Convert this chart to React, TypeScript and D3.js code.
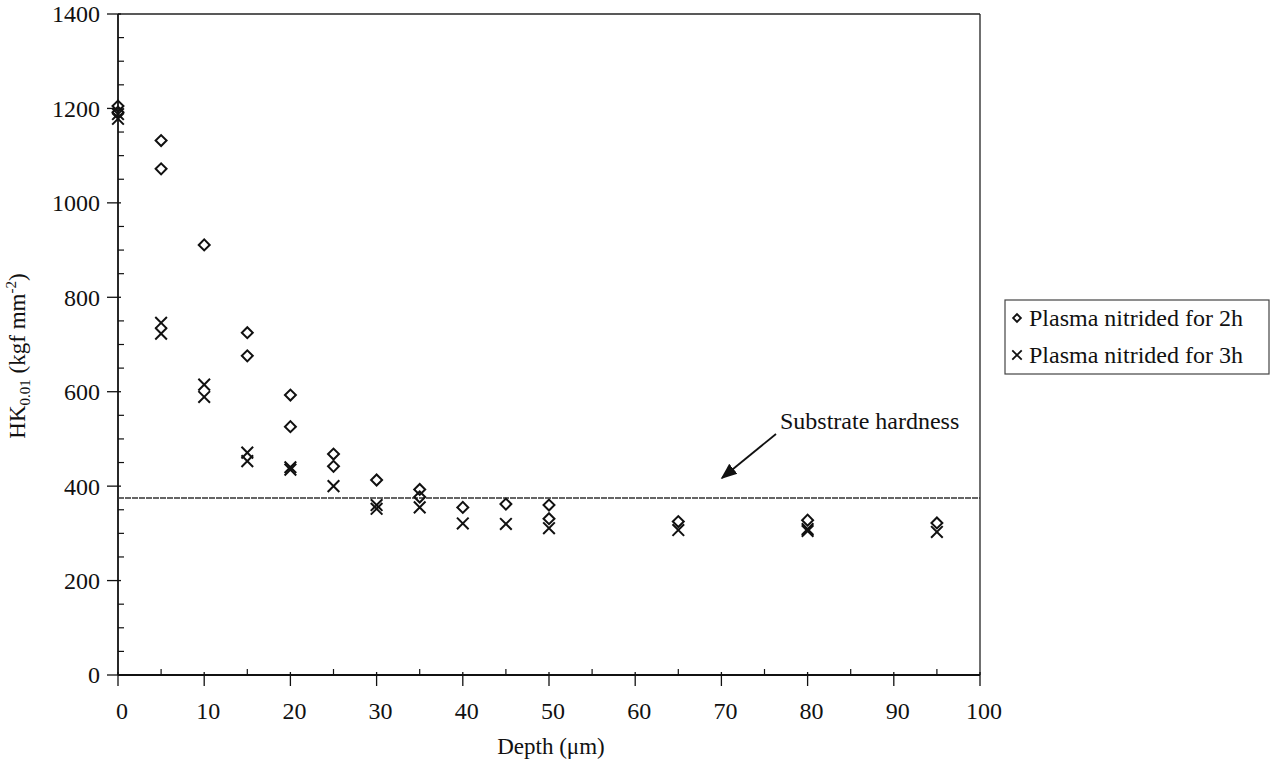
import React from 'react';
import * as d3 from 'd3';

// hardness profile
const depth2h = [0, 0, 5, 5, 10, 15, 15, 20, 20, 25, 25, 30, 35, 35, 40, 45, 50, 50, 65, 80, 95];
const hk2h = [1205, 1192, 1132, 1072, 911, 725, 676, 593, 526, 468, 442, 413, 393, 377, 355, 362, 360, 331, 325, 328, 322];
const depth3h = [0, 0, 5, 5, 10, 10, 15, 15, 20, 20, 25, 30, 30, 35, 40, 45, 50, 65, 80, 80, 95];
const hk3h = [1188, 1178, 746, 723, 615, 589, 471, 453, 440, 435, 400, 360, 352, 355, 321, 320, 311, 307, 309, 305, 303];

const substrateDepth = [0, 100];
const substrateHK = [375, 375];

const xTicks = [0, 10, 20, 30, 40, 50, 60, 70, 80, 90, 100];
const yTicks = [0, 200, 400, 600, 800, 1000, 1200, 1400];
const legendLabels = ['Plasma nitrided for 2h', 'Plasma nitrided for 3h'];

const W = 1273;
const H = 767;
const FONT = '"Liberation Serif", "Times New Roman", serif';

export default function App() {
  const x = d3.scaleLinear().domain([0, 100]).range([118, 980]);
  const y = d3.scaleLinear().domain([0, 1400]).range([675, 14]);

  const diamond = d3.symbol().type(d3.symbolSquare).size(60)();
  const cross = d3.symbol().type(d3.symbolTimes).size(90)();

  const minorY = d3.range(50, 1400, 50).filter(v => v % 200 !== 0);
  const minorX = d3.range(5, 100, 10);

  const line = d3.line<number>()
    .x((d, i) => x(substrateDepth[i]))
    .y(d => y(d));

  return (
    <svg width={W} height={H} style={{ position: 'absolute', left: 0, top: 0, background: '#fff' }}>
      <defs>
        <marker id="arrow" viewBox="0 0 10 10" refX="9" refY="5" markerWidth="9" markerHeight="9"
          orient="auto-start-reverse">
          <path d="M0,1 L10,5 L0,9 z" fill="#111" />
        </marker>
      </defs>

      {/* frame */}
      <line x1={x(0)} x2={x(100)} y1={y(1400)} y2={y(1400)} stroke="#222" strokeWidth={1.3} />
      <line x1={x(100)} x2={x(100)} y1={y(1400)} y2={y(0)} stroke="#222" strokeWidth={1.3} />
      <line x1={x(0)} x2={x(0)} y1={y(1400)} y2={y(0)} stroke="#111" strokeWidth={1.8} />
      <line x1={x(0)} x2={x(100)} y1={y(0)} y2={y(0)} stroke="#111" strokeWidth={1.8} />

      {/* y ticks */}
      {yTicks.map(t => (
        <g key={'y' + t}>
          <line x1={x(0) - 11} x2={x(0) + 3} y1={y(t)} y2={y(t)} stroke="#111" strokeWidth={1.3} />
          <text x={100} y={y(t)} dy="0.35em" textAnchor="end" fontSize={24} fontFamily={FONT} fill="#111">{t}</text>
        </g>
      ))}
      {minorY.map(t => (
        <line key={'my' + t} x1={x(0)} x2={x(0) + 6} y1={y(t)} y2={y(t)} stroke="#111" strokeWidth={1.2} />
      ))}

      {/* x ticks */}
      {xTicks.map(t => (
        <g key={'x' + t}>
          <line x1={x(t)} x2={x(t)} y1={y(0) - 3} y2={y(0) + 11} stroke="#111" strokeWidth={1.3} />
          <text x={x(t) + 4} y={719} textAnchor="middle" fontSize={24} fontFamily={FONT} fill="#111">{t}</text>
        </g>
      ))}
      {minorX.map(t => (
        <line key={'mx' + t} x1={x(t)} x2={x(t)} y1={y(0) - 6} y2={y(0)} stroke="#111" strokeWidth={1.2} />
      ))}

      {/* axis titles */}
      <text x={551} y={754} textAnchor="middle" fontSize={23} fontFamily={FONT} fill="#111">
        Depth  (μm)
      </text>
      <text transform="translate(25, 356) rotate(-90)" textAnchor="middle" fontSize={23} fontFamily={FONT} fill="#111">
        HK<tspan fontSize={15} dy={5}>0.01</tspan><tspan dy={-5}> (kgf mm</tspan>
        <tspan fontSize={15} dy={-9}>-2</tspan><tspan dy={9}>)</tspan>
      </text>

      {/* substrate hardness */}
      <path d={line(substrateHK) || ''} fill="none" stroke="#333" strokeWidth={1.4} strokeDasharray="6,1" />
      <text x={780} y={429} fontSize={24} fontFamily={FONT} fill="#111">Substrate hardness</text>
      <line x1={776} y1={434} x2={722} y2={478} stroke="#111" strokeWidth={1.8} markerEnd="url(#arrow)" />

      {/* series */}
      {depth2h.map((d, i) => (
        <path key={'a' + i} d={diamond} transform={`translate(${x(d)},${y(hk2h[i])}) rotate(45)`}
          fill="none" stroke="#111" strokeWidth={2} />
      ))}
      {depth3h.map((d, i) => (
        <path key={'b' + i} d={cross} transform={`translate(${x(d)},${y(hk3h[i])})`}
          fill="none" stroke="#111" strokeWidth={2} />
      ))}

      {/* legend */}
      <rect x={1005} y={300} width={264} height={74} fill="#fff" stroke="#444" strokeWidth={1.2} />
      <path d={d3.symbol().type(d3.symbolSquare).size(30)()} transform="translate(1017,318) rotate(45)"
        fill="none" stroke="#111" strokeWidth={1.8} />
      <path d={d3.symbol().type(d3.symbolTimes).size(60)()} transform="translate(1017,355)"
        fill="none" stroke="#111" strokeWidth={1.8} />
      {legendLabels.map((l, i) => (
        <text key={l} x={1029} y={326 + i * 37} fontSize={24} fontFamily={FONT} fill="#111">{l}</text>
      ))}
    </svg>
  );
}
